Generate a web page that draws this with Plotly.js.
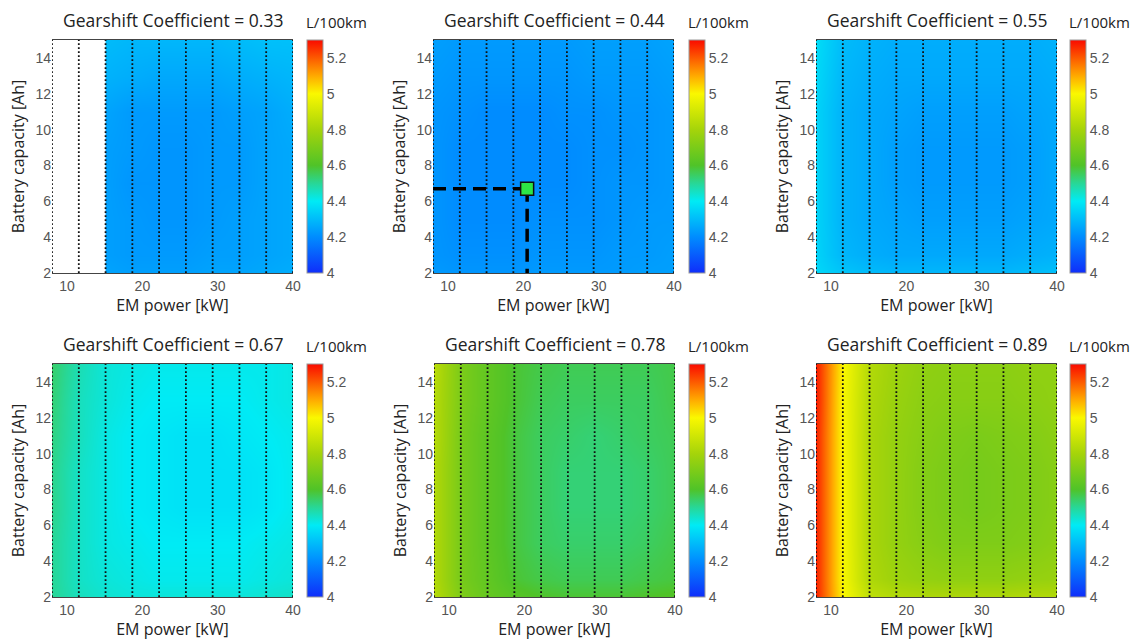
<!DOCTYPE html>
<html>
<head>
<meta charset="utf-8">
<script src="https://cdn.plot.ly/plotly-3.0.1.min.js"></script>
<style>html,body{margin:0;padding:0;background:#fff;}#chart{width:1131px;height:641px;}</style>
</head>
<body>
<div id="chart"></div>
<script>
// ---------------- DATA ----------------
const emPower = [8, 11.56, 15.11, 18.67, 22.22, 25.78, 29.33, 32.89, 36.44, 40]; // kW (grid columns)
const battCap = [2, 3, 5, 7, 9, 11, 13, 15]; // Ah (grid rows)
const coefficients = ['0.33', '0.44', '0.55', '0.67', '0.78', '0.89'];
const unitLabel = 'L/100km';
const xTicks = [10, 20, 30, 40];
const yTicks = [2, 4, 6, 8, 10, 12, 14];
const cbTicks = [4, 4.2, 4.4, 4.6, 4.8, 5, 5.2];

// fuel consumption [L/100km], rows = battCap, cols = emPower
const fc033 = [
  [null,null,4.25,4.24,4.24,4.24,4.25,4.25,4.26,4.27],
  [null,null,4.24,4.23,4.23,4.23,4.24,4.24,4.25,4.26],
  [null,null,4.24,4.23,4.22,4.22,4.23,4.24,4.25,4.26],
  [null,null,4.24,4.22,4.22,4.22,4.23,4.23,4.25,4.26],
  [null,null,4.24,4.23,4.22,4.22,4.23,4.23,4.25,4.26],
  [null,null,4.25,4.23,4.23,4.23,4.23,4.24,4.25,4.27],
  [null,null,4.28,4.27,4.26,4.26,4.26,4.27,4.28,4.29],
  [null,null,4.30,4.29,4.29,4.29,4.29,4.30,4.31,4.31]
];
const fc044 = [
  [4.23,4.22,4.22,4.22,4.23,4.23,4.23,4.23,4.24,4.24],
  [4.22,4.21,4.21,4.21,4.22,4.22,4.22,4.23,4.23,4.24],
  [4.22,4.20,4.20,4.20,4.21,4.21,4.21,4.22,4.23,4.23],
  [4.22,4.20,4.20,4.20,4.20,4.20,4.21,4.22,4.22,4.23],
  [4.22,4.20,4.20,4.20,4.20,4.20,4.21,4.21,4.22,4.23],
  [4.22,4.21,4.20,4.20,4.20,4.21,4.21,4.22,4.22,4.23],
  [4.23,4.22,4.22,4.22,4.22,4.22,4.23,4.23,4.23,4.24],
  [4.24,4.23,4.23,4.23,4.23,4.23,4.24,4.24,4.24,4.25]
];
const fc055 = [
  [4.36,4.32,4.30,4.29,4.29,4.29,4.29,4.29,4.30,4.31],
  [4.35,4.29,4.27,4.26,4.26,4.26,4.26,4.26,4.27,4.28],
  [4.35,4.28,4.26,4.25,4.24,4.24,4.24,4.24,4.25,4.26],
  [4.35,4.28,4.26,4.24,4.23,4.23,4.23,4.23,4.24,4.26],
  [4.35,4.28,4.26,4.24,4.23,4.23,4.23,4.23,4.24,4.26],
  [4.35,4.28,4.26,4.25,4.24,4.24,4.24,4.24,4.25,4.26],
  [4.36,4.29,4.27,4.26,4.26,4.26,4.26,4.26,4.26,4.27],
  [4.37,4.30,4.28,4.27,4.27,4.27,4.27,4.27,4.27,4.28]
];
const fc067 = [
  [4.50,4.46,4.44,4.43,4.43,4.43,4.43,4.43,4.44,4.45],
  [4.50,4.45,4.43,4.42,4.41,4.41,4.41,4.41,4.42,4.43],
  [4.50,4.45,4.42,4.41,4.40,4.40,4.40,4.40,4.41,4.42],
  [4.51,4.45,4.42,4.40,4.39,4.38,4.38,4.38,4.39,4.41],
  [4.51,4.45,4.42,4.40,4.39,4.38,4.38,4.38,4.39,4.41],
  [4.52,4.46,4.42,4.40,4.39,4.38,4.38,4.39,4.40,4.41],
  [4.53,4.46,4.43,4.41,4.40,4.40,4.40,4.40,4.41,4.42],
  [4.54,4.47,4.43,4.42,4.41,4.41,4.41,4.41,4.41,4.42]
];
const fc078 = [
  [4.84,4.71,4.65,4.62,4.60,4.59,4.59,4.59,4.60,4.61],
  [4.83,4.69,4.64,4.59,4.57,4.56,4.56,4.56,4.57,4.58],
  [4.83,4.69,4.63,4.58,4.55,4.54,4.54,4.54,4.55,4.57],
  [4.83,4.69,4.63,4.58,4.55,4.53,4.53,4.53,4.54,4.56],
  [4.83,4.69,4.63,4.58,4.55,4.53,4.53,4.53,4.54,4.56],
  [4.84,4.69,4.63,4.58,4.55,4.54,4.53,4.54,4.55,4.56],
  [4.84,4.70,4.64,4.59,4.56,4.55,4.55,4.55,4.55,4.57],
  [4.85,4.70,4.64,4.59,4.57,4.56,4.56,4.56,4.56,4.57]
];
const fc089 = [
  [5.27,5.00,4.86,4.83,4.82,4.82,4.82,4.82,4.83,4.83],
  [5.27,4.99,4.82,4.78,4.76,4.75,4.75,4.75,4.76,4.77],
  [5.27,4.99,4.81,4.76,4.73,4.71,4.71,4.71,4.72,4.74],
  [5.27,4.99,4.81,4.76,4.72,4.70,4.69,4.70,4.71,4.73],
  [5.27,4.99,4.81,4.76,4.72,4.70,4.69,4.70,4.71,4.73],
  [5.27,4.99,4.81,4.76,4.73,4.71,4.70,4.71,4.72,4.74],
  [5.28,4.99,4.82,4.77,4.74,4.73,4.73,4.73,4.74,4.75],
  [5.28,5.00,4.83,4.78,4.75,4.74,4.74,4.74,4.75,4.75]
];
const fcAll = [fc033, fc044, fc055, fc067, fc078, fc089];

// optimum design point (shown on the 0.44 panel)
const optPanel = 1;
const optPower = [20.5];
const optCap = [6.7];

// ---------------- STYLE / LAYOUT ----------------
const W = 1131, H = 641;
const colorscale = [
  [0.000, 'rgb(15,45,250)'],
  [0.154, 'rgb(0,140,255)'],
  [0.308, 'rgb(0,235,245)'],
  [0.385, 'rgb(40,215,150)'],
  [0.462, 'rgb(80,195,40)'],
  [0.615, 'rgb(165,212,10)'],
  [0.769, 'rgb(250,248,0)'],
  [0.846, 'rgb(255,170,0)'],
  [1.000, 'rgb(250,10,0)']
];
// pixel boxes of plot areas [left, right, top, bottom]
const boxes = [
  [52, 293, 40, 273], [433, 674, 40, 273], [816, 1057, 40, 273],
  [52, 293, 364, 597], [434, 675, 364, 597], [816, 1057, 364, 597]
];
const cbLeft = [307, 689, 1070, 307, 689, 1070];

const tickFont = {family: 'Liberation Sans, Arial, sans-serif', size: 14, color: '#555'};
const labFont = {family: 'Open Sans, sans-serif', size: 16, color: '#222'};

const traces = [];
const layout = {
  width: W, height: H,
  margin: {l: 0, r: 0, t: 0, b: 0},
  paper_bgcolor: '#fff', plot_bgcolor: '#fff',
  showlegend: false,
  annotations: []
};

fcAll.forEach((z, i) => {
  const n = i + 1;
  const xa = 'x' + (n === 1 ? '' : n), ya = 'y' + (n === 1 ? '' : n);
  const b = boxes[i];
  const yDom = [1 - b[3] / H, 1 - b[2] / H];
  const yLo = battCap[0], yHi = battCap[battCap.length - 1];
  traces.push({
    type: 'heatmap', x: emPower, y: battCap, z: z,
    zsmooth: 'best', zmin: 4, zmax: 5.3, colorscale: colorscale,
    xaxis: xa, yaxis: ya, hoverinfo: 'skip',
    colorbar: {
      x: cbLeft[i] / W, xanchor: 'left', xpad: 0, ypad: 0,
      y: (yDom[0] + yDom[1]) / 2, yanchor: 'middle',
      len: b[3] - b[2], lenmode: 'pixels',
      thickness: 16, thicknessmode: 'pixels',
      outlinewidth: 1, outlinecolor: '#999',
      tickvals: cbTicks, ticktext: cbTicks.map(String),
      ticks: '', tickfont: tickFont
    }
  });
  // blank out columns that have no data (left of first valid column)
  let firstValid = 0;
  while (firstValid < emPower.length && z.every(r => r[firstValid] === null)) firstValid++;
  if (firstValid > 0) {
    const xe = emPower[firstValid];
    traces.push({
      type: 'scatter', mode: 'lines', fill: 'toself', fillcolor: '#fff',
      x: [emPower[0], xe, xe, emPower[0], emPower[0]], y: [yLo, yLo, yHi, yHi, yLo],
      line: {width: 0, color: 'rgba(0,0,0,0)'}, xaxis: xa, yaxis: ya, hoverinfo: 'skip'
    });
  }
  // dotted grid columns
  const lx = [], ly = [];
  emPower.forEach(p => { lx.push(p, p, null); ly.push(yLo, yHi, null); });
  traces.push({
    type: 'scatter', mode: 'lines', x: lx, y: ly, xaxis: xa, yaxis: ya,
    line: {color: '#111', width: 1.8, dash: '1.8px,2.2px'}, hoverinfo: 'skip'
  });
  if (i === optPanel) {
    traces.push({
      type: 'scatter', mode: 'lines', x: [emPower[0], optPower[0]], y: [optCap[0], optCap[0]],
      xaxis: xa, yaxis: ya, line: {color: '#000', width: 3.5, dash: '13px,7px'}, hoverinfo: 'skip'
    });
    traces.push({
      type: 'scatter', mode: 'lines', x: [optPower[0], optPower[0]], y: [optCap[0], yLo],
      xaxis: xa, yaxis: ya, line: {color: '#000', width: 3.5, dash: '13px,7px'}, hoverinfo: 'skip'
    });
    traces.push({
      type: 'scatter', mode: 'markers', x: optPower, y: optCap, xaxis: xa, yaxis: ya,
      marker: {symbol: 'square', size: 13, color: 'rgb(45,230,70)', line: {color: '#111', width: 1.5}},
      hoverinfo: 'skip'
    });
  }
  layout['xaxis' + (n === 1 ? '' : n)] = {
    domain: [b[0] / W, b[1] / W], anchor: ya,
    range: [emPower[0], emPower[emPower.length - 1]],
    tickvals: xTicks, ticks: '', tickfont: tickFont,
    showgrid: false, zeroline: false, showline: true, mirror: true,
    linecolor: '#444', linewidth: 1,
    title: {text: 'EM power [kW]', font: labFont, standoff: 6}
  };
  layout['yaxis' + (n === 1 ? '' : n)] = {
    domain: yDom, anchor: xa,
    range: [yLo, yHi],
    tickvals: yTicks, ticks: '', tickfont: tickFont,
    showgrid: false, zeroline: false, showline: false,
    title: {text: 'Battery capacity [Ah]', font: labFont, standoff: 6}
  };
  layout.annotations.push({
    text: 'Gearshift Coefficient = ' + coefficients[i],
    xref: 'paper', yref: 'paper',
    x: (b[0] + b[1]) / 2 / W, y: 1 - (b[2] - 20) / H,
    xanchor: 'center', yanchor: 'middle', showarrow: false,
    font: {family: 'Open Sans, sans-serif', size: 17.5, color: '#222'}
  });
  layout.annotations.push({
    text: unitLabel, xref: 'paper', yref: 'paper',
    x: (cbLeft[i] - 3) / W, y: 1 - (b[2] - 18) / H,
    xanchor: 'left', yanchor: 'middle', showarrow: false,
    font: {family: 'Open Sans, sans-serif', size: 15, color: '#222'}
  });
});

Plotly.newPlot('chart', traces, layout, {displayModeBar: false, staticPlot: true});
</script>
</body>
</html>
